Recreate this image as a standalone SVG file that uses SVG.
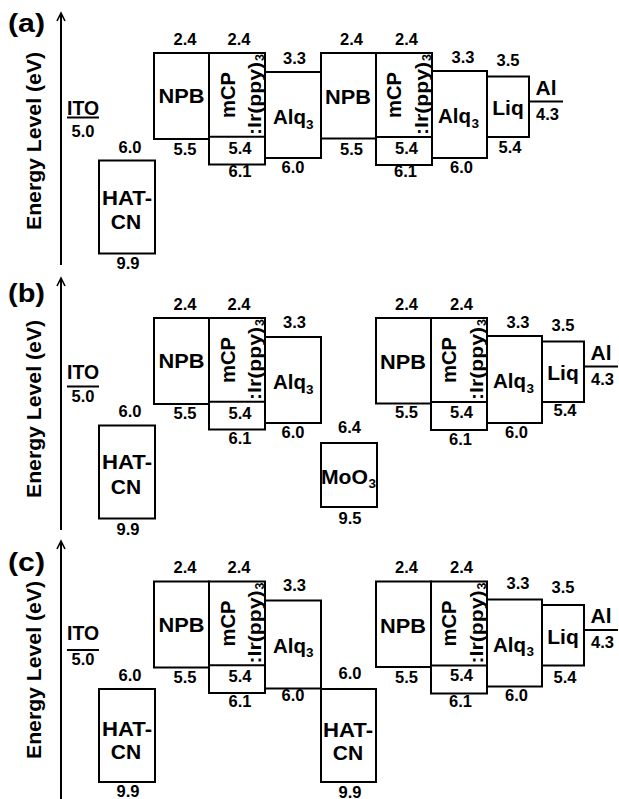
<svg xmlns="http://www.w3.org/2000/svg" width="619" height="799" viewBox="0 0 619 799">
<style>
.b{fill:none;stroke:#000;stroke-width:2}
.ax{fill:none;stroke:#000;stroke-width:2}
.ah{fill:none;stroke:#000;stroke-width:1.6;stroke-linejoin:miter}
text{font-family:"Liberation Sans",Arial,Helvetica,sans-serif;font-weight:bold;fill:#000}
.n{font-size:16.5px;text-anchor:middle}
.l{font-size:21px;text-anchor:middle}
.ls{font-size:21px}
.sub{font-size:13.5px}
.r{font-size:19.5px;text-anchor:middle}
.ir{font-size:18.5px}
.irs{font-size:12.5px}
.pl{font-size:26px}
.ey{font-size:19.5px;text-anchor:middle}
.ito{font-size:20px;text-anchor:middle}
</style>
<rect width="619" height="799" fill="#fff"/>

<!-- axes and panel labels -->
<g id="axes">
  <path class="ax" d="M61,265 V14"/><path class="ah" d="M57,21 L61,13 L65,21"/>
  <path class="ax" d="M61,530 V279"/><path class="ah" d="M57,286 L61,278 L65,286"/>
  <path class="ax" d="M61,799 V542"/><path class="ah" d="M57,549 L61,541 L65,549"/>
  <text class="pl" x="8" y="32" textLength="37" lengthAdjust="spacingAndGlyphs">(a)</text>
  <text class="pl" x="8" y="302" textLength="37" lengthAdjust="spacingAndGlyphs">(b)</text>
  <text class="pl" x="8" y="570.5" textLength="37" lengthAdjust="spacingAndGlyphs">(c)</text>
  <g transform="translate(41,141) rotate(-90)"><text class="ey" x="0" y="0" textLength="178" lengthAdjust="spacingAndGlyphs">Energy Level (eV)</text></g>
  <g transform="translate(41,409) rotate(-90)"><text class="ey" x="0" y="0" textLength="178" lengthAdjust="spacingAndGlyphs">Energy Level (eV)</text></g>
  <g transform="translate(41,670) rotate(-90)"><text class="ey" x="0" y="0" textLength="178" lengthAdjust="spacingAndGlyphs">Energy Level (eV)</text></g>
</g>

<!-- ITO -->
<g id="a-ito"><text class="ito" x="83" y="115" textLength="32" lengthAdjust="spacingAndGlyphs">ITO</text><line class="b" x1="67" y1="117.5" x2="99" y2="117.5"/><text class="n" x="83" y="136.5">5.0</text></g>
<g id="b-ito"><text class="ito" x="83" y="378.5" textLength="32" lengthAdjust="spacingAndGlyphs">ITO</text><line class="b" x1="67" y1="386.5" x2="99" y2="386.5"/><text class="n" x="83" y="401.5">5.0</text></g>
<g id="c-ito"><text class="ito" x="83" y="640" textLength="32" lengthAdjust="spacingAndGlyphs">ITO</text><line class="b" x1="67" y1="650" x2="99" y2="650"/><text class="n" x="83" y="665">5.0</text></g>

<!-- PANEL A -->
<g id="panel-a">
  <g id="a-hatcn"><rect class="b" x="99" y="160.5" width="56" height="93"/><text class="l" x="127" y="205" textLength="50" lengthAdjust="spacingAndGlyphs">HAT-</text><text class="l" x="126" y="229">CN</text><text class="n" x="130" y="153">6.0</text><text class="n" x="128" y="269">9.9</text></g>
  <g id="a-npb1"><rect class="b" x="154" y="53" width="55" height="86"/><text class="l" x="181.5" y="103" textLength="46" lengthAdjust="spacingAndGlyphs">NPB</text><text class="n" x="185" y="45">2.4</text><text class="n" x="185" y="155">5.5</text></g>
  <g id="a-mcp1"><rect class="b" x="209" y="53" width="56" height="111.5"/><line class="b" x1="209" y1="136.7" x2="265" y2="136.7"/>
    <g transform="translate(235,95) rotate(-90)"><text class="r" x="0" y="0" textLength="46" lengthAdjust="spacingAndGlyphs">mCP</text></g>
    <g transform="translate(261,135) rotate(-90)"><text class="ir" x="0" y="0" textLength="73" lengthAdjust="spacingAndGlyphs">:Ir(ppy)</text><text class="irs" x="74" y="3">3</text></g>
    <text class="n" x="239" y="45">2.4</text><text class="n" x="240" y="154">5.4</text><text class="n" x="240" y="177">6.1</text></g>
  <g id="a-alq1"><rect class="b" x="265" y="72" width="56" height="86"/><text class="ls" x="273" y="124" textLength="33" lengthAdjust="spacingAndGlyphs">Alq</text><text class="sub" x="306" y="128.5">3</text><text class="n" x="294.5" y="64">3.3</text><text class="n" x="293" y="173">6.0</text></g>
  <g id="a-right">
    <g id="a-npb2"><rect class="b" x="321" y="53" width="55" height="85.5"/><text class="l" x="348" y="104" textLength="46" lengthAdjust="spacingAndGlyphs">NPB</text><text class="n" x="351.5" y="44.5">2.4</text><text class="n" x="351.5" y="155">5.5</text></g>
    <g id="a-mcp2"><rect class="b" x="376" y="53" width="56" height="112"/><line class="b" x1="376" y1="137" x2="432" y2="137"/>
      <g transform="translate(401,95) rotate(-90)"><text class="r" x="0" y="0" textLength="46" lengthAdjust="spacingAndGlyphs">mCP</text></g>
      <g transform="translate(428,135) rotate(-90)"><text class="ir" x="0" y="0" textLength="73" lengthAdjust="spacingAndGlyphs">:Ir(ppy)</text><text class="irs" x="74" y="3">3</text></g>
      <text class="n" x="406.5" y="44.5">2.4</text><text class="n" x="406.5" y="153.5">5.4</text><text class="n" x="405.5" y="177">6.1</text></g>
    <g id="a-alq2"><rect class="b" x="432" y="71" width="55" height="87"/><text class="ls" x="438" y="123" textLength="33" lengthAdjust="spacingAndGlyphs">Alq</text><text class="sub" x="471.5" y="127.5">3</text><text class="n" x="463" y="62.5">3.3</text><text class="n" x="461.5" y="173">6.0</text></g>
    <g id="a-liq"><rect class="b" x="487" y="76.5" width="42" height="60.5"/><text class="l" x="508" y="115">Liq</text><text class="n" x="508" y="66">3.5</text><text class="n" x="510" y="152.7">5.4</text></g>
    <g id="a-al"><line class="b" x1="529" y1="101.5" x2="563" y2="101.5"/><text class="l" x="546" y="95">Al</text><text class="n" x="547.5" y="120">4.3</text></g>
  </g>
</g>

<!-- PANEL B -->
<g id="panel-b" transform="translate(0,265)">
  <g id="b-hatcn"><rect class="b" x="99" y="160.5" width="56" height="93"/><text class="l" x="127" y="204" textLength="50" lengthAdjust="spacingAndGlyphs">HAT-</text><text class="l" x="126" y="229">CN</text><text class="n" x="130" y="152">6.0</text><text class="n" x="128" y="270">9.9</text></g>
  <g id="b-npb1"><rect class="b" x="154" y="53" width="55" height="86"/><text class="l" x="181.5" y="103" textLength="46" lengthAdjust="spacingAndGlyphs">NPB</text><text class="n" x="185" y="44.5">2.4</text><text class="n" x="185" y="153.5">5.5</text></g>
  <g id="b-mcp1"><rect class="b" x="209" y="53" width="56" height="111.5"/><line class="b" x1="209" y1="136.7" x2="265" y2="136.7"/>
    <g transform="translate(235,95) rotate(-90)"><text class="r" x="0" y="0" textLength="46" lengthAdjust="spacingAndGlyphs">mCP</text></g>
    <g transform="translate(261,135) rotate(-90)"><text class="ir" x="0" y="0" textLength="73" lengthAdjust="spacingAndGlyphs">:Ir(ppy)</text><text class="irs" x="74" y="3">3</text></g>
    <text class="n" x="239" y="44.5">2.4</text><text class="n" x="240" y="153.5">5.4</text><text class="n" x="240" y="179">6.1</text></g>
  <g id="b-alq1"><rect class="b" x="265" y="72" width="56" height="86"/><text class="ls" x="273" y="124" textLength="33" lengthAdjust="spacingAndGlyphs">Alq</text><text class="sub" x="306" y="128.5">3</text><text class="n" x="294.5" y="62.5">3.3</text><text class="n" x="293" y="173">6.0</text></g>
  <g id="b-moo3"><rect class="b" x="321" y="178" width="56" height="64"/><text class="ls" x="321" y="219" textLength="47" lengthAdjust="spacingAndGlyphs">MoO</text><text class="sub" x="368.5" y="223">3</text><text class="n" x="349.5" y="168">6.4</text><text class="n" x="350" y="259">9.5</text></g>
  <g id="b-right" transform="translate(55,0)">
    <g id="b-npb2"><rect class="b" x="321" y="53" width="55" height="85.5"/><text class="l" x="348" y="104" textLength="46" lengthAdjust="spacingAndGlyphs">NPB</text><text class="n" x="351.5" y="44.5">2.4</text><text class="n" x="351.5" y="153">5.5</text></g>
    <g id="b-mcp2"><rect class="b" x="376" y="53" width="56" height="112"/><line class="b" x1="376" y1="137" x2="432" y2="137"/>
      <g transform="translate(401,95) rotate(-90)"><text class="r" x="0" y="0" textLength="46" lengthAdjust="spacingAndGlyphs">mCP</text></g>
      <g transform="translate(428,135) rotate(-90)"><text class="ir" x="0" y="0" textLength="73" lengthAdjust="spacingAndGlyphs">:Ir(ppy)</text><text class="irs" x="74" y="3">3</text></g>
      <text class="n" x="406.5" y="44.5">2.4</text><text class="n" x="406.5" y="153">5.4</text><text class="n" x="405.5" y="180">6.1</text></g>
    <g id="b-alq2"><rect class="b" x="432" y="71" width="55" height="87"/><text class="ls" x="438" y="123" textLength="33" lengthAdjust="spacingAndGlyphs">Alq</text><text class="sub" x="471.5" y="127.5">3</text><text class="n" x="463" y="62.5">3.3</text><text class="n" x="461.5" y="173">6.0</text></g>
    <g id="b-liq"><rect class="b" x="487" y="76.5" width="42" height="60.5"/><text class="l" x="508" y="115">Liq</text><text class="n" x="508" y="66">3.5</text><text class="n" x="510" y="151">5.4</text></g>
    <g id="b-al"><line class="b" x1="529" y1="101.5" x2="563" y2="101.5"/><text class="l" x="546" y="95">Al</text><text class="n" x="547.5" y="120">4.3</text></g>
  </g>
</g>

<!-- PANEL C -->
<g id="panel-c" transform="translate(0,528.5)">
  <g id="c-hatcn1"><rect class="b" x="99" y="160.5" width="56" height="93"/><text class="l" x="127" y="207" textLength="50" lengthAdjust="spacingAndGlyphs">HAT-</text><text class="l" x="126" y="230">CN</text><text class="n" x="130" y="152.5">6.0</text><text class="n" x="128" y="268.5">9.9</text></g>
  <g id="c-npb1"><rect class="b" x="154" y="53" width="55" height="86"/><text class="l" x="181.5" y="103" textLength="46" lengthAdjust="spacingAndGlyphs">NPB</text><text class="n" x="185" y="44">2.4</text><text class="n" x="185" y="154.5">5.5</text></g>
  <g id="c-mcp1"><rect class="b" x="209" y="53" width="56" height="111.5"/><line class="b" x1="209" y1="136.7" x2="265" y2="136.7"/>
    <g transform="translate(235,95) rotate(-90)"><text class="r" x="0" y="0" textLength="46" lengthAdjust="spacingAndGlyphs">mCP</text></g>
    <g transform="translate(261,135) rotate(-90)"><text class="ir" x="0" y="0" textLength="73" lengthAdjust="spacingAndGlyphs">:Ir(ppy)</text><text class="irs" x="74" y="3">3</text></g>
    <text class="n" x="239" y="44">2.4</text><text class="n" x="240" y="153.5">5.4</text><text class="n" x="240" y="178.5">6.1</text></g>
  <g id="c-alq1"><rect class="b" x="265" y="72" width="56" height="88"/><text class="ls" x="273" y="124" textLength="33" lengthAdjust="spacingAndGlyphs">Alq</text><text class="sub" x="306" y="128.5">3</text><text class="n" x="294.5" y="62">3.3</text><text class="n" x="293" y="172.5">6.0</text></g>
  <g id="c-hatcn2"><rect class="b" x="321" y="160.5" width="55" height="93"/><text class="l" x="348" y="208" textLength="50" lengthAdjust="spacingAndGlyphs">HAT-</text><text class="l" x="348" y="231">CN</text><text class="n" x="350" y="150.5">6.0</text><text class="n" x="350" y="269">9.9</text></g>
  <g id="c-right" transform="translate(55,0)">
    <g id="c-npb2"><rect class="b" x="321" y="53" width="55" height="85.5"/><text class="l" x="348" y="104" textLength="46" lengthAdjust="spacingAndGlyphs">NPB</text><text class="n" x="351.5" y="44">2.4</text><text class="n" x="351.5" y="154.5">5.5</text></g>
    <g id="c-mcp2"><rect class="b" x="376" y="53" width="56" height="112"/><line class="b" x1="376" y1="137" x2="432" y2="137"/>
      <g transform="translate(401,95) rotate(-90)"><text class="r" x="0" y="0" textLength="46" lengthAdjust="spacingAndGlyphs">mCP</text></g>
      <g transform="translate(428,135) rotate(-90)"><text class="ir" x="0" y="0" textLength="73" lengthAdjust="spacingAndGlyphs">:Ir(ppy)</text><text class="irs" x="74" y="3">3</text></g>
      <text class="n" x="406.5" y="44">2.4</text><text class="n" x="406.5" y="152.5">5.4</text><text class="n" x="405.5" y="178.5">6.1</text></g>
    <g id="c-alq2"><rect class="b" x="432" y="71" width="55" height="87"/><text class="ls" x="438" y="123" textLength="33" lengthAdjust="spacingAndGlyphs">Alq</text><text class="sub" x="471.5" y="127.5">3</text><text class="n" x="463" y="60.5">3.3</text><text class="n" x="461.5" y="172.5">6.0</text></g>
    <g id="c-liq"><rect class="b" x="487" y="76.5" width="42" height="60.5"/><text class="l" x="508" y="115">Liq</text><text class="n" x="508" y="64.5">3.5</text><text class="n" x="510" y="154.5">5.4</text></g>
    <g id="c-al"><line class="b" x1="529" y1="101.5" x2="563" y2="101.5"/><text class="l" x="546" y="94">Al</text><text class="n" x="547.5" y="119.5">4.3</text></g>
  </g>
</g>
</svg>
